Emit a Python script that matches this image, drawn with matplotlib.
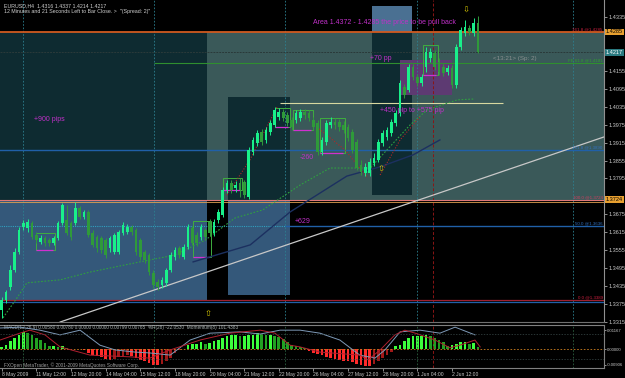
import matplotlib
matplotlib.use('Agg')
import matplotlib.pyplot as plt
from matplotlib.patches import Rectangle

# EURUSD H4, 8 May - 3 Jun 2009
opens = [1.3355, 1.3389, 1.3432, 1.3489, 1.3549, 1.3633, 1.3630, 1.3646, 1.3606, 1.3583,
         1.3596, 1.3589, 1.3580, 1.3596, 1.3646, 1.3656, 1.3646, 1.3646, 1.3696, 1.3666,
         1.3683, 1.3613, 1.3599, 1.3596, 1.3589, 1.3563, 1.3549, 1.3549, 1.3613, 1.3616,
         1.3633, 1.3623, 1.3589, 1.3549, 1.3539, 1.3479, 1.3449, 1.3439, 1.3446, 1.3489,
         1.3533, 1.3563, 1.3533, 1.3566, 1.3630, 1.3606, 1.3599, 1.3623, 1.3650, 1.3613,
         1.3656, 1.3673, 1.3757, 1.3780, 1.3763, 1.3780, 1.3783, 1.3733, 1.3884, 1.3914,
         1.3950, 1.3924, 1.3950, 1.3974, 1.4001, 1.4017, 1.4007, 1.3991, 1.3991, 1.3997,
         1.4017, 1.4014, 1.3991, 1.3981, 1.3884, 1.3917, 1.3974, 1.3984, 1.3984, 1.3974,
         1.3967, 1.3950, 1.3917, 1.3840, 1.3813, 1.3813, 1.3847, 1.3857, 1.3914, 1.3934,
         1.3947, 1.3981, 1.4014, 1.4101, 1.4091, 1.4168, 1.4135, 1.4114, 1.4168, 1.4198,
         1.4215, 1.4185, 1.4168, 1.4151, 1.4165, 1.4108, 1.4235, 1.4282, 1.4298, 1.4282,
         1.4316]
highs = [1.3399, 1.3422, 1.3506, 1.3563, 1.3633, 1.3656, 1.3660, 1.3653, 1.3616, 1.3606,
         1.3603, 1.3596, 1.3603, 1.3653, 1.3713, 1.3706, 1.3653, 1.3717, 1.3703, 1.3690,
         1.3690, 1.3623, 1.3606, 1.3603, 1.3596, 1.3603, 1.3613, 1.3623, 1.3650, 1.3643,
         1.3640, 1.3630, 1.3596, 1.3556, 1.3546, 1.3489, 1.3459, 1.3466, 1.3496, 1.3549,
         1.3566, 1.3570, 1.3576, 1.3643, 1.3636, 1.3616, 1.3643, 1.3630, 1.3660, 1.3660,
         1.3693, 1.3767, 1.3790, 1.3790, 1.3787, 1.3797, 1.3790, 1.3900, 1.3934, 1.3957,
         1.3961, 1.3967, 1.3991, 1.4034, 1.4031, 1.4027, 1.4017, 1.4001, 1.4024, 1.4027,
         1.4027, 1.4024, 1.4001, 1.3991, 1.3934, 1.3991, 1.4001, 1.3997, 1.3994, 1.3987,
         1.3977, 1.3961, 1.3927, 1.3857, 1.3847, 1.3864, 1.3880, 1.3927, 1.3957, 1.3967,
         1.3994, 1.4024, 1.4124, 1.4111, 1.4178, 1.4178, 1.4145, 1.4145, 1.4235, 1.4231,
         1.4225, 1.4198, 1.4178, 1.4175, 1.4175, 1.4245, 1.4302, 1.4325, 1.4308, 1.4332,
         1.4337]
lows = [1.3329, 1.3379, 1.3422, 1.3482, 1.3543, 1.3623, 1.3616, 1.3593, 1.3580, 1.3576,
        1.3570, 1.3570, 1.3573, 1.3589, 1.3640, 1.3606, 1.3589, 1.3640, 1.3660, 1.3660,
        1.3599, 1.3566, 1.3549, 1.3546, 1.3529, 1.3549, 1.3543, 1.3543, 1.3606, 1.3609,
        1.3606, 1.3539, 1.3523, 1.3513, 1.3472, 1.3429, 1.3422, 1.3429, 1.3436, 1.3482,
        1.3523, 1.3529, 1.3526, 1.3559, 1.3573, 1.3570, 1.3589, 1.3589, 1.3603, 1.3603,
        1.3646, 1.3666, 1.3747, 1.3747, 1.3750, 1.3733, 1.3730, 1.3727, 1.3874, 1.3904,
        1.3907, 1.3914, 1.3941, 1.3967, 1.3991, 1.3987, 1.3971, 1.3957, 1.3981, 1.3987,
        1.3994, 1.3987, 1.3957, 1.3874, 1.3874, 1.3907, 1.3964, 1.3961, 1.3954, 1.3947,
        1.3921, 1.3880, 1.3823, 1.3807, 1.3803, 1.3803, 1.3837, 1.3850, 1.3904, 1.3924,
        1.3937, 1.3971, 1.4004, 1.4064, 1.4084, 1.4124, 1.4104, 1.4104, 1.4151, 1.4185,
        1.4158, 1.4141, 1.4138, 1.4141, 1.4098, 1.4098, 1.4225, 1.4272, 1.4275, 1.4272,
        1.4214]
closes = [1.3389, 1.3416, 1.3489, 1.3549, 1.3623, 1.3646, 1.3650, 1.3599, 1.3589, 1.3596,
          1.3580, 1.3580, 1.3596, 1.3646, 1.3706, 1.3613, 1.3599, 1.3696, 1.3666, 1.3683,
          1.3606, 1.3573, 1.3563, 1.3556, 1.3539, 1.3596, 1.3606, 1.3616, 1.3640, 1.3633,
          1.3616, 1.3549, 1.3533, 1.3523, 1.3482, 1.3439, 1.3432, 1.3456, 1.3489, 1.3539,
          1.3556, 1.3539, 1.3566, 1.3633, 1.3580, 1.3580, 1.3633, 1.3599, 1.3613, 1.3650,
          1.3683, 1.3757, 1.3780, 1.3757, 1.3773, 1.3757, 1.3740, 1.3890, 1.3924, 1.3947,
          1.3917, 1.3957, 1.3981, 1.4024, 1.4017, 1.3997, 1.3981, 1.3967, 1.4014, 1.4017,
          1.4007, 1.3997, 1.3967, 1.3884, 1.3924, 1.3981, 1.3984, 1.3974, 1.3967, 1.3957,
          1.3931, 1.3890, 1.3830, 1.3817, 1.3834, 1.3850, 1.3864, 1.3917, 1.3947, 1.3957,
          1.3984, 1.4014, 1.4114, 1.4074, 1.4168, 1.4135, 1.4114, 1.4135, 1.4218, 1.4218,
          1.4168, 1.4151, 1.4148, 1.4165, 1.4108, 1.4235, 1.4292, 1.4302, 1.4285, 1.4315,
          1.4217]

macd_hist = [0.0012, 0.0024, 0.0047, 0.0065, 0.0083, 0.0100, 0.0094, 0.0083, 0.0065, 0.0053,
             0.0035, 0.0018, 0.0018, 0.0012, 0.0018, 0.0006, 0.0003, 0.0003, 0.0000, -0.0003,
             -0.0024, -0.0035, -0.0041, -0.0047, -0.0059, -0.0065, -0.0059, -0.0047, -0.0041, -0.0035,
             -0.0041, -0.0053, -0.0065, -0.0071, -0.0083, -0.0094, -0.0094, -0.0089, -0.0071, -0.0053,
             -0.0024, -0.0006, 0.0000, 0.0024, 0.0030, 0.0030, 0.0041, 0.0030, 0.0035, 0.0047,
             0.0053, 0.0065, 0.0077, 0.0083, 0.0083, 0.0077, 0.0077, 0.0083, 0.0083, 0.0094,
             0.0089, 0.0083, 0.0083, 0.0077, 0.0071, 0.0059, 0.0041, 0.0024, 0.0018, 0.0012,
             0.0006, -0.0012, -0.0024, -0.0030, -0.0035, -0.0047, -0.0053, -0.0059, -0.0065, -0.0071,
             -0.0071, -0.0077, -0.0089, -0.0094, -0.0100, -0.0100, -0.0089, -0.0071, -0.0053, -0.0035,
             -0.0018, 0.0018, 0.0024, 0.0047, 0.0065, 0.0077, 0.0077, 0.0077, 0.0083, 0.0077,
             0.0065, 0.0053, 0.0041, 0.0018, 0.0024, 0.0030, 0.0041, 0.0041, 0.0030, 0.0035,
             0.0012]

# %R and second oscillator line (0..100 of the sub window), sampled at bar index
wpr_x = [-0.4, 4.2, 8.8, 13.5, 18.1, 22.7, 26.2, 30.8, 34.2, 38.9, 43.5, 48.1, 55.0, 59.7,
         64.3, 68.9, 73.5, 78.1, 82.7, 86.2, 88.5, 92.0, 96.6, 101.2, 104.7, 109.3]
wpr_v = [93, 95, 88, 77, 88, 53, 42, 37, 35, 30, 65, 81, 84, 79,
         88, 88, 81, 65, 30, 23, 42, 84, 88, 81, 95, 77]
osc_x = [-0.4, 4.2, 6.5, 10.0, 13.5, 20.4, 29.6, 34.2, 38.9, 45.8, 52.7, 59.7, 63.1, 66.6,
         68.9, 73.5, 82.7, 84.6, 87.4, 90.8, 93.1, 95.5, 100.1, 103.5, 105.8, 109.3, 110.5]
osc_v = [65, 81, 88, 77, 49, 30, 26, 23, 42, 65, 81, 88, 81, 53,
         49, 37, 30, 19, 42, 77, 88, 81, 65, 47, 53, 65, 49]

time_idx = [0, 8, 16, 24, 32, 40, 48, 56, 64, 72, 80, 88, 96, 104]
time_labels = ['8 May 2009', '11 May 12:00', '12 May 20:00', '14 May 04:00', '15 May 12:00',
               '18 May 20:00', '20 May 04:00', '21 May 12:00', '22 May 20:00', '26 May 04:00',
               '27 May 12:00', '28 May 20:00', '1 Jun 04:00', '2 Jun 12:00']
price_ticks = [1.4335, 1.4155, 1.4095, 1.4035, 1.3975, 1.3915, 1.3855, 1.3795,
               1.3675, 1.3615, 1.3555, 1.3495, 1.3435, 1.3375, 1.3315]

# drawn objects: zones (bar from, bar to, price low, price high)
teal_zone = (-1, 141, 1.3724, 1.4285)
blue_zones = [(-1, 47.4, 1.3389, 1.4285), (52.3, 66.6, 1.3406, 1.4068), (85.5, 94.8, 1.3740, 1.4372)]
# fibo / horizontal levels: price, label
fib_levels = [(1.4285, '161.8 @1.4285'), (1.4181, 'FE 61.8 @1.4181'), (1.3890, '161.8 @1.3890'),
              (1.3724, '100.0 @1.3724'), (1.3636, '50.0 @1.3636'), (1.3389, '0.0 @1.3389')]
trend_pts = [(13.5, 1.3315), (139.1, 1.3934)]
navy_x = [44.2, 57.4, 66.6, 79.7, 87.4, 95.0, 101.2]
navy_p = [1.3516, 1.3573, 1.3683, 1.3803, 1.3834, 1.3874, 1.3924]
green_ma_x = [0.3, 3.5, 5.8, 13.5, 20.4, 31.9, 40.0, 47.0, 53.9, 60.3, 68.9, 75.8, 85.1, 94.3, 98.2, 105.2, 109.3]
green_ma_p = [1.3329, 1.3395, 1.3446, 1.3456, 1.3482, 1.3516, 1.3539, 1.3589, 1.3663, 1.3690, 1.3773,
              1.3830, 1.3830, 1.3974, 1.4024, 1.4058, 1.4061]
red_segs = [([52.0, 57.3, 63.6], [1.3740, 1.3857, 1.4034]),
            ([72.8, 79.3, 84.6], [1.3967, 1.3890, 1.3797]),
            ([87.4, 92.0, 96.6], [1.3807, 1.3924, 1.4001])]
grid_idx = [4.9, 35.2, 65.4, 95.9, 131.9]
vline_idx = 99.6
boxes = [(7.9, 12.3, 1.3556, 1.3613), (44.2, 48.3, 1.3533, 1.3653), (51.1, 55.5, 1.3757, 1.3797),
         (63.1, 66.6, 1.3967, 1.4031), (67.3, 71.9, 1.3957, 1.4024), (73.5, 79.3, 1.3880, 1.3997),
         (97.3, 100.8, 1.4141, 1.4242)]
notes = [(71.9, 1.4318, 'Area 1.4372 - 1.4285 the price to be pull back'), (85.0, 1.4195, '+70 pp'),
         (7.5, 1.3991, '+900 pips'), (87.4, 1.4021, '+450 pip to +575 pip'),
         (68.9, 1.3864, '-260'), (67.7, 1.3650, '+629')]
arrows = [(47.7, 1.3342, '\u21e7'), (87.6, 1.3830, '\u21e7'), (107.2, 1.4359, '\u21e9')]

plt.rcParams['font.family'] = ['Liberation Sans', 'DejaVu Sans']
fig = plt.figure(figsize=(6.25, 3.78), dpi=100, facecolor='black')
W, H = 625, 378
ax = fig.add_axes([0, 1 - 322 / H, 604 / W, 322 / H], facecolor='black')
axm = fig.add_axes([0, 1 - 368 / H, 604 / W, 43 / H], facecolor='black')
tw = axm.twinx()
XL = (-0.4, 139.1)

# zones (blue over teal shows dark)
tx0, tx1, tp0, tp1 = teal_zone
ax.add_patch(Rectangle((tx0, tp0), tx1 - tx0, tp1 - tp0, color='#3a5959', lw=0, zorder=0))
for x0, x1, p0, p1 in blue_zones:
    lo, hi = max(p0, tp0), min(p1, tp1)
    if hi > lo:
        ax.add_patch(Rectangle((x0, lo), x1 - x0, hi - lo, color='#0e2b31', lw=0, zorder=0.1))
    if p0 < tp0:
        ax.add_patch(Rectangle((x0, p0), x1 - x0, min(p1, tp0) - p0, color='#34587a', lw=0, zorder=0.1))
    if p1 > tp1:
        ax.add_patch(Rectangle((x0, max(p0, tp1)), x1 - x0, p1 - max(p0, tp1), color='#4a7092', lw=0, zorder=0.1))
ax.add_patch(Rectangle((92, 1.4074), 12, 0.0117, color='#5d3a72', lw=0, zorder=0.2))

for g in grid_idx:
    ax.axvline(g, color='#2c8090', lw=0.6, ls=(0, (2, 2)), zorder=0.3)
    axm.axvline(g, color='#2c6040', lw=0.6, ls=(0, (2, 2)))
ax.axvline(vline_idx, color='#8a1515', lw=0.7, ls=(0, (3, 2)), zorder=0.3)
axm.axvline(vline_idx, color='#8a1515', lw=0.7, ls=(0, (3, 2)))

# horizontal levels
ax.axhline(1.4285, color='#d05a20', lw=1.3, zorder=1)
ax.axhline(1.4217, color='#2a3a3a', lw=0.7, ls=(0, (2, 1)), zorder=1)
ax.hlines(1.4181, 35.2, 141, color='#2f8f2f', lw=0.8, zorder=1)
ax.axhline(1.3890, color='#2060a8', lw=1.0, zorder=1)
ax.axhline(1.3724, color='#e07878', lw=0.8, zorder=1)
ax.axhline(1.3718, color='#e0a050', lw=0.6, zorder=1)
ax.hlines(1.3636, -1, 65.4, color='#30a0c0', lw=0.8, ls=(0, (1, 1)), zorder=1)
ax.hlines(1.3636, 65.4, 141, color='#2060a8', lw=1.0, zorder=1)
ax.axhline(1.3389, color='#a02030', lw=0.9, zorder=1)
ax.axhline(1.3382, color='#2060a8', lw=0.9, zorder=1)
ax.hlines(1.4048, 64.3, 115.8, color='#d8d8a0', lw=0.8, zorder=1)
fib_cols = ['#d02040', '#2f9f2f', '#3070c0', '#d04060', '#3070c0', '#d02040']
for (p, lab), c in zip(fib_levels, fib_cols):
    ax.text(138.8, p + 0.0002, lab, color=c, fontsize=3.2, ha='right', va='bottom', zorder=5)

for x0, x1, p0, p1 in boxes:
    ax.add_patch(Rectangle((x0, p0), x1 - x0, p1 - p0, fill=False, ec='#3fae3f', lw=0.7, zorder=2))
    ax.hlines(p0, x0, x1 - 0.4, color='#d030d0', lw=0.9, zorder=2)

ax.plot([p[0] for p in trend_pts], [p[1] for p in trend_pts], color='#c8c8c8', lw=0.9, zorder=2)
ax.plot(navy_x, navy_p, color='#1c3060', lw=1.0, zorder=2)
ax.plot(green_ma_x, green_ma_p, color='#2fa040', lw=0.8, ls=(0, (1.5, 1.5)), zorder=2)
for xs, ps in red_segs:
    ax.plot(xs, ps, color='#b02828', lw=0.8, ls=(0, (1, 1.5)), zorder=2)

# candles
for i in range(len(closes)):
    o, h, l, c = opens[i], highs[i], lows[i], closes[i]
    col = '#19f08a' if c >= o else '#2f9a3a'
    ax.vlines(i, l, h, color=col, lw=0.7, zorder=3)
    ax.bar(i, max(abs(c - o), 0.00012), bottom=min(o, c), width=0.62, color=col, lw=0, zorder=3)

for x, p, s in notes:
    ax.text(x, p, s, color='#c030c8', fontsize=5, va='center', ha='left', zorder=5)
for x, p, s in arrows:
    ax.text(x, p, s, color='#d8c800', fontsize=6, family='DejaVu Sans', ha='center', va='center', zorder=5)
ax.text(113.5, 1.4198, '<13:21> (Sp: 2)', color='#8a9090', fontsize=4.5, va='center', zorder=5)

ax.text(0.6, 1.4372, 'EURUSD,H4  1.4316 1.4337 1.4214 1.4217', color='#d0d0d0', fontsize=3.8, va='center')
ax.text(0.6, 1.4352, '12 Minutes and 21 Seconds Left to Bar Close. >  "(Spread: 2)"', color='#d0d0d0',
        fontsize=3.8, va='center')

ax.set_xlim(*XL)
ax.set_ylim(1.3315, 1.4392)
ax.yaxis.tick_right()
ax.set_yticks(price_ticks)
ax.set_yticklabels(['%.4f' % t for t in price_ticks])
ax.tick_params(axis='y', colors='#c8c8c8', labelsize=4, length=2, width=0.5, pad=1)
ax.set_xticks([])
for s in ['left', 'top']:
    ax.spines[s].set_visible(False)
ax.spines['right'].set_color('#909090')
ax.spines['bottom'].set_color('#707070')
for p, s, fc, tc in [(1.4285, '1.4285', '#e8a030', 'black'), (1.4217, '1.4217', '#2a7a80', 'white'),
                     (1.3724, '1.3724', '#e8a030', 'black')]:
    ax.text(1.003, p, s, transform=ax.get_yaxis_transform(), fontsize=4, color=tc, va='center', ha='left',
            bbox=dict(boxstyle='square,pad=0.15', fc=fc, ec='none'), clip_on=False)

# sub window
cols = []
for i, v in enumerate(macd_hist):
    prev = macd_hist[i - 1] if i else 0
    if v >= 0:
        cols.append('#3cff3c' if v >= prev else '#22a022')
    else:
        cols.append('#ff2a2a' if v <= prev else '#a01818')
axm.bar(range(len(macd_hist)), macd_hist, width=0.62, color=cols, lw=0)
axm.axhline(0, color='#d08020', lw=0.6, ls=(0, (2, 2)))
axm.set_xlim(*XL)
axm.set_ylim(-0.0112, 0.0142)
axm.set_yticks([0.0112, 0, -0.0094])
axm.set_yticklabels(['0.01167', '0.00000', '-0.00906'])
axm.yaxis.tick_right()
axm.tick_params(axis='y', colors='#c8c8c8', labelsize=3.1, length=1.5, width=0.5, pad=0.5,
                left=False, labelleft=False, right=True, labelright=True)
axm.set_xticks(time_idx)
axm.set_xticklabels(time_labels, ha='left')
axm.tick_params(axis='x', colors='#c8c8c8', labelsize=3.6, length=2, width=0.5, pad=1)
axm.spines['left'].set_visible(False)
for s in ['right', 'bottom', 'top']:
    axm.spines[s].set_color('#808080')
tw.set_ylim(0, 100)
tw.set_xlim(*XL)
tw.plot(wpr_x, wpr_v, color='#7e9ab8', lw=0.7)
tw.plot(osc_x, osc_v, color='#b02030', lw=0.7)
tw.axhline(80, color='#3a4a4a', lw=0.5, ls=(0, (2, 2)))
tw.axhline(20, color='#3a4a4a', lw=0.5, ls=(0, (2, 2)))
tw.axis('off')
axm.text(0.5, 0.0128, 'MACD(12,26,9) 0.00580 0.00780 0.00000 0.00000 0.00799 0.00765  %R(28) -22.0530  Momentum(8) 101.4383',
         color='#a8b0b0', fontsize=3.4, va='center', zorder=5)
axm.text(0.5, -0.0095, 'FXOpen MetaTrader, \u00a9 2001-2009 MetaQuotes Software Corp.', color='#a0a0a0',
         fontsize=3.4, va='center', zorder=5)

fig.savefig('out.png', dpi=100, facecolor='black')
